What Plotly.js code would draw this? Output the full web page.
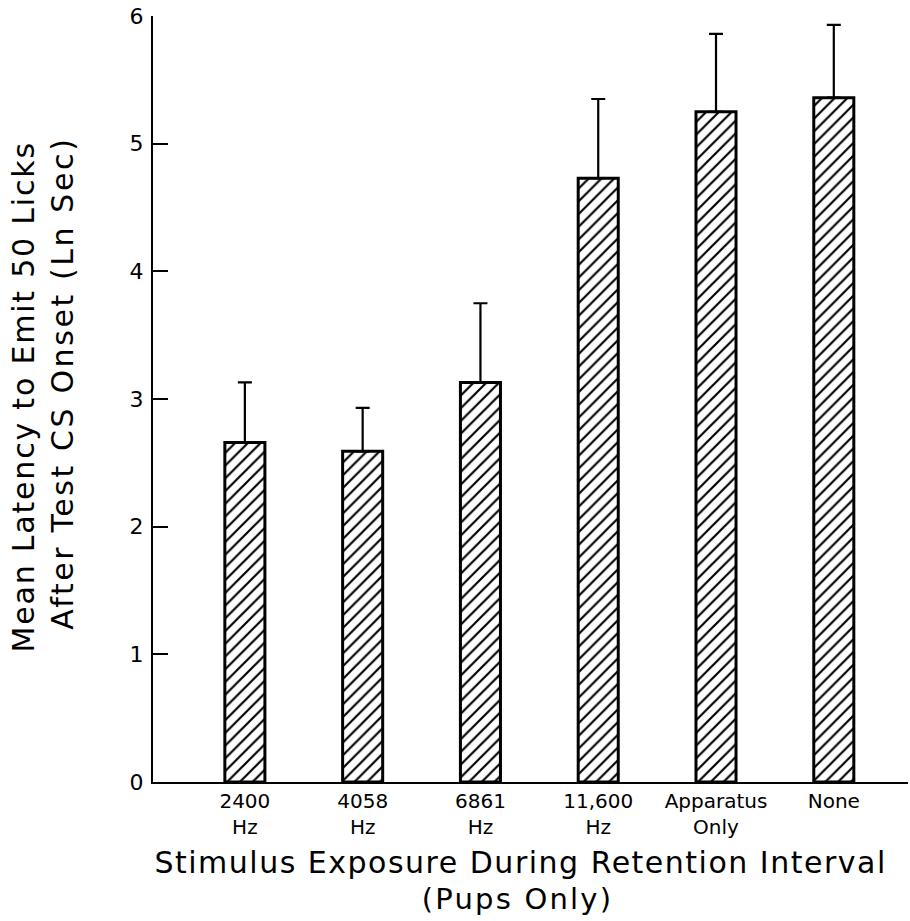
<!DOCTYPE html>
<html><head><meta charset="utf-8">
<script src="https://cdn.plot.ly/plotly-3.0.1.min.js"></script>
<style>
body{margin:0;background:#fff}
#chart{width:910px;height:921px}
.annotation-text{letter-spacing:1.8px}
.annotation[data-index="0"] .annotation-text{letter-spacing:1.5px}
.annotation[data-index="1"] .annotation-text{letter-spacing:2.2px}
.annotation[data-index="3"] .annotation-text{letter-spacing:2.6px}
</style></head><body><div id="chart"></div>
<script>
const categories = ["2400<br>Hz","4058<br>Hz","6861<br>Hz","11,600<br>Hz","Apparatus<br>Only","None"];
const meanLatency = [2.66, 2.59, 3.13, 4.73, 5.25, 5.36];
const errorUpper = [0.47, 0.34, 0.62, 0.62, 0.61, 0.57];
const yTicks = [0, 1, 2, 3, 4, 5, 6];
const xTitle = "Stimulus Exposure During Retention Interval";
const xSubTitle = "(Pups Only)";
const yTitleLine1 = "Mean Latency to Emit 50 Licks";
const yTitleLine2 = "After Test CS Onset (Ln Sec)";

const FONT = "DejaVu Sans, Liberation Sans, sans-serif";

const trace = {
  type: "bar",
  x: categories,
  y: meanLatency,
  width: 0.34,
  marker: {
    color: "white",
    line: {color: "black", width: 3},
    pattern: {shape: "/", size: 9, solidity: 0.24, fgcolor: "black", bgcolor: "white"}
  },
  error_y: {
    type: "data", symmetric: false, array: errorUpper,
    arrayminus: errorUpper.map(() => 0),
    color: "black", thickness: 2.2, width: 7
  },
  hoverinfo: "none"
};

const layout = {
  width: 910, height: 921,
  margin: {l: 153, r: 2, t: 16, b: 138.5},
  paper_bgcolor: "white", plot_bgcolor: "white",
  showlegend: false,
  font: {family: FONT, color: "black", size: 20},
  xaxis: {
    type: "category",
    range: [-0.78, 5.63],
    showline: true, linecolor: "black", linewidth: 2,
    ticks: "", showgrid: false, zeroline: false,
    tickfont: {family: FONT, size: 20, color: "black"}
  },
  yaxis: {
    range: [0, 6],
    tickvals: yTicks,
    ticktext: yTicks.map(String),
    showline: true, linecolor: "black", linewidth: 2,
    ticks: "inside", ticklen: 15, tickwidth: 2, tickcolor: "black",
    ticklabelstandoff: 3,
    showgrid: false, zeroline: false,
    tickfont: {family: FONT, size: 22, color: "black"}
  },
  annotations: [
    {text: xTitle, xref: "paper", yref: "paper", x: 0.487, y: -0.105,
     xanchor: "center", yanchor: "middle", showarrow: false,
     font: {family: FONT, size: 30, color: "black"}},
    {text: xSubTitle, xref: "paper", yref: "paper", x: 0.483, y: -0.153,
     xanchor: "center", yanchor: "middle", showarrow: false,
     font: {family: FONT, size: 29, color: "black"}},
    {text: yTitleLine1, xref: "paper", yref: "paper", x: -0.1709, y: 0.5033,
     xanchor: "center", yanchor: "middle", showarrow: false, textangle: -90,
     font: {family: FONT, size: 30, color: "black"}},
    {text: yTitleLine2, xref: "paper", yref: "paper", x: -0.1192, y: 0.5202,
     xanchor: "center", yanchor: "middle", showarrow: false, textangle: -90,
     font: {family: FONT, size: 30, color: "black"}}
  ]
};

Plotly.newPlot("chart", [trace], layout, {staticPlot: true, displayModeBar: false});
</script></body></html>
